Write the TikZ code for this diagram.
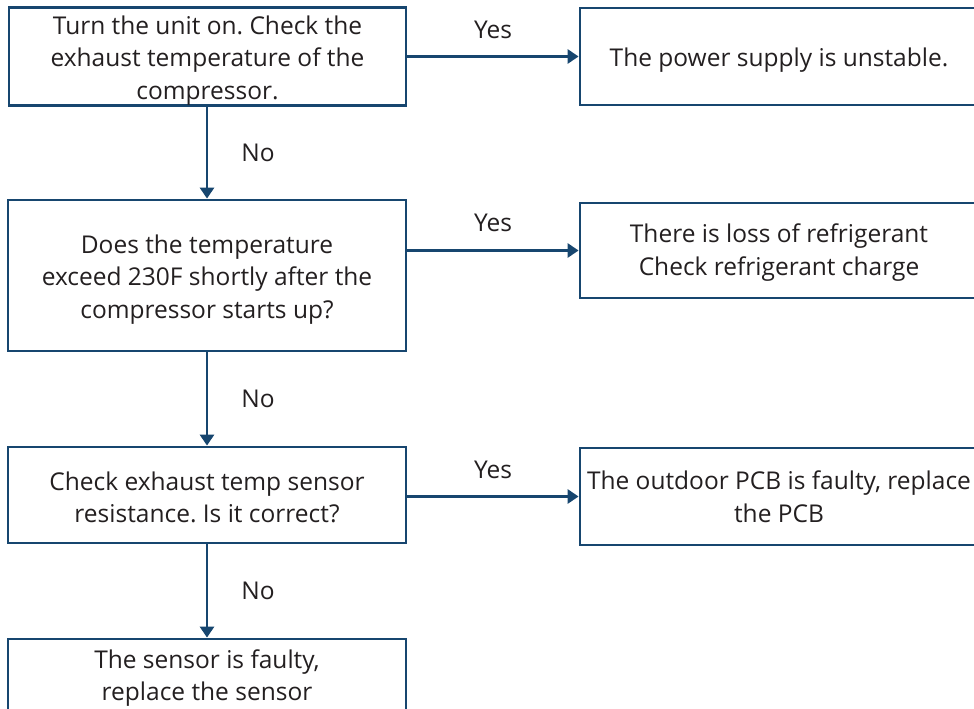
\documentclass[tikz,border=0pt]{standalone}
\usepackage{fontspec}
\setmainfont{Open Sans}
\usetikzlibrary{arrows.meta}
\definecolor{flowblue}{HTML}{17466F}
\definecolor{txtgray}{HTML}{231F20}
\frenchspacing
\newcommand\tdn[1]{\rule{0pt}{#1}}
\begin{document}
\begin{tikzpicture}[x=1pt,y=-1pt,
  box/.style={draw=flowblue, line width=2.8pt, inner sep=0pt, align=center,
    text=txtgray, font=\fontsize{24.5}{32.5}\selectfont},
  conn/.style={draw=flowblue, line width=2.8pt, -{Triangle[length=11pt,width=14pt]}},
  lbl/.style={text=txtgray, font=\fontsize{24.5}{32.5}\selectfont, inner sep=0pt}]
\clip (0,0) rectangle (974,709);
\useasboundingbox (0,0) rectangle (974,709);
\node[box, minimum width=397pt, minimum height=95pt] (b1) at (207.5,56.5)
  {\tdn{26.5pt}Turn the unit on. Check the\\exhaust temperature of the\\compressor.};
\node[box, minimum width=398pt, minimum height=97pt] (b2) at (779,56.5)
  {\tdn{26.5pt}The power supply is unstable.};
\node[box, minimum width=398pt, minimum height=151pt] (b3) at (207,275.5)
  {\tdn{26.5pt}Does the temperature\\exceed 230F shortly after the\\compressor starts up?};
\node[box, minimum width=398pt, minimum height=95pt] (b4) at (779,250.5)
  {\tdn{22.5pt}There is loss of refrigerant\\Check refrigerant charge};
\node[box, minimum width=398pt, minimum height=96pt] (b5) at (207,495)
  {\tdn{23.5pt}Check exhaust temp sensor\\resistance. Is it correct?};
\node[box, minimum width=398pt, minimum height=97pt] (b6) at (779,496.5)
  {The outdoor PCB is faulty, replace\\the PCB};
\node[box, minimum width=398pt, minimum height=74pt] (b7) at (207,676)
  {\tdn{22.5pt}The sensor is faulty,\\replace the sensor};
\draw[conn] (b1.east |- b2.west) -- node[lbl, yshift=26.5pt] (y1) {Yes} (b2.west);
\draw[conn] (b3.east |- b4.west) -- node[lbl, yshift=28pt] (y2) {Yes} (b4.west);
\draw[conn] (b5.east |- b6.west) -- node[lbl, yshift=27pt] (y3) {Yes} (b6.west);
\draw[conn] (b1.south -| 207,0) -- node[lbl, anchor=west, xshift=33pt] (n1) {No} (b3.north -| 207,0);
\draw[conn] (b3.south) -- node[lbl, anchor=west, xshift=33pt] (n2) {No} (b5.north);
\draw[conn] (b5.south) -- node[lbl, anchor=west, xshift=33pt] (n3) {No} (b7.north);
\end{tikzpicture}
\end{document}
